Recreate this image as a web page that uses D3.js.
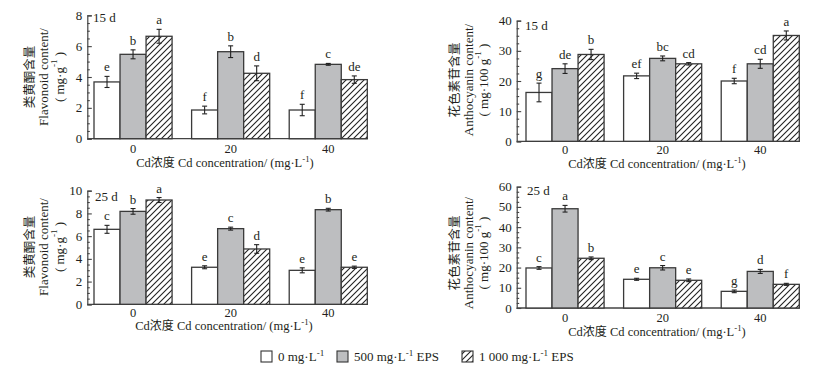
<!DOCTYPE html>
<html><head><meta charset="utf-8">
<script src="https://cdn.jsdelivr.net/npm/d3@7/dist/d3.min.js"></script>
<style>
body{margin:0;background:#fff;}
svg{display:block;}
text{font-family:"Liberation Serif","Times New Roman",serif;fill:#231f20;}
.cjk{font-family:"Noto Sans CJK SC","Noto Sans",sans-serif;}
</style></head>
<body>
<svg id="chart" width="817" height="366"></svg>
<script>
// ---------- data ----------
const categories = ["0", "20", "40"];
const seriesKeys = ["ctrl", "eps500", "eps1000"];
const seriesFills = ["#ffffff", "#bdbec0", "url(#hatch)"];

// Flavonoid 15 d (mg/g) — one array per series across Cd levels
const flav15Ctrl = [3.68, 1.86, 1.86];
const flav15Eps500 = [5.47, 5.64, 4.82];
const flav15Eps1000 = [6.64, 4.24, 3.83];
const flav15Err = [[0.36, 0.25, 0.37], [0.29, 0.38, 0.06], [0.45, 0.48, 0.24]];
const flav15Letters = [["e", "f", "f"], ["b", "b", "c"], ["a", "d", "de"]];

// Anthocyanin 15 d (mg/100 g)
const anth15Ctrl = [16.2, 21.7, 20.0];
const anth15Eps500 = [24.1, 27.5, 25.7];
const anth15Eps1000 = [28.8, 25.7, 35.1];
const anth15Err = [[3.1, 0.9, 0.9], [1.6, 0.8, 1.5], [1.7, 0.4, 1.5]];
const anth15Letters = [["g", "ef", "f"], ["de", "bc", "cd"], ["b", "cd", "a"]];

// Flavonoid 25 d
const flav25Ctrl = [6.60, 3.26, 2.99];
const flav25Eps500 = [8.18, 6.66, 8.33];
const flav25Eps1000 = [9.18, 4.87, 3.26];
const flav25Err = [[0.35, 0.13, 0.22], [0.25, 0.13, 0.12], [0.22, 0.38, 0.10]];
const flav25Letters = [["c", "e", "e"], ["b", "c", "b"], ["a", "d", "e"]];

// Anthocyanin 25 d
const anth25Ctrl = [19.8, 14.2, 8.24];
const anth25Eps500 = [49.1, 19.9, 18.1];
const anth25Eps1000 = [24.6, 13.7, 11.7];
const anth25Err = [[0.66, 0.5, 0.66], [1.65, 1.1, 1.0], [0.66, 0.66, 0.5]];
const anth25Letters = [["c", "e", "g"], ["a", "c", "d"], ["b", "e", "f"]];

const flavTicks = [0, 2, 4, 6, 8];
const flav25Ticks = [0, 2, 4, 6, 8, 10];
const anth15Ticks = [0, 10, 20, 30, 40];
const anth25Ticks = [0, 10, 20, 30, 40, 50, 60];

// ---------- drawing ----------
const svg = d3.select("#chart");
const defs = svg.append("defs");
const pat = defs.append("pattern").attr("id", "hatch")
  .attr("patternUnits", "userSpaceOnUse").attr("width", 6).attr("height", 6);
pat.append("rect").attr("width", 6).attr("height", 6).attr("fill", "#fff");
pat.append("path").attr("d", "M-1,1 l2,-2 M0,6 l6,-6 M5,7 l2,-2")
  .attr("stroke", "#222").attr("stroke-width", 1.1);

const axisCol = "#444";

function supUnit(sel, parts) {
  parts.forEach(([t, sup]) => {
    const ts = sel.append("tspan").text(t);
    if (sup) ts.attr("font-size", "0.7em").attr("baseline-shift", "super");
  });
}

function drawPanel(cfg) {
  const g = svg.append("g");
  const y = d3.scaleLinear().domain(cfg.domain).range([cfg.y0, cfg.y1]);
  const x = d3.scaleBand().domain(categories).range(cfg.barRange)
    .paddingInner(0.2).paddingOuter(0);
  const xs = d3.scaleBand().domain(seriesKeys).range([0, x.bandwidth()]);

  // axes
  const yAxis = d3.axisRight(y).tickValues(cfg.ticks).tickSize(4.5).tickFormat("");
  const minorStep = (cfg.ticks[1] - cfg.ticks[0]) / 4;
  const minor = d3.range(cfg.domain[0], cfg.domain[1] + 1e-9, minorStep)
    .filter(v => !cfg.ticks.some(t => Math.abs(t - v) < 1e-9));
  const yMinor = d3.axisRight(y).tickValues(minor).tickSize(2.5).tickFormat("");
  const ga = g.append("g").attr("transform", `translate(${cfg.axisX},0)`).call(yAxis);
  const gm = g.append("g").attr("transform", `translate(${cfg.axisX},0)`).call(yMinor);
  [ga, gm].forEach(a => {
    a.selectAll("path.domain").attr("stroke", axisCol).attr("stroke-width", 1.2);
    a.selectAll(".tick line").attr("stroke", axisCol).attr("stroke-width", 1.1);
  });
  gm.select("path.domain").remove();
  g.selectAll(null).data(cfg.ticks).join("text")
    .attr("x", cfg.axisX - 5).attr("y", d => y(d)).attr("dy", "0.35em")
    .attr("text-anchor", "end").attr("font-size", 13).text(d => d);

  // x axis baseline
  g.append("line").attr("x1", cfg.axisX).attr("x2", cfg.barRange[1] + 0.5)
    .attr("y1", y(0)).attr("y2", y(0)).attr("stroke", axisCol).attr("stroke-width", 1.3);
  g.selectAll(null).data(categories).join("text")
    .attr("x", d => x(d) + x.bandwidth() / 2).attr("y", cfg.tickLabelY)
    .attr("dy", "0.35em").attr("text-anchor", "middle").attr("font-size", 12.5).text(d => d);

  // bars
  const rows = [];
  cfg.series.forEach((vals, si) => vals.forEach((v, ci) => rows.push({
    cat: categories[ci], key: seriesKeys[si], si, v, err: cfg.err[si][ci], lab: cfg.letters[si][ci]
  })));
  g.selectAll(null).data(rows).join("rect")
    .attr("x", d => x(d.cat) + xs(d.key)).attr("width", xs.bandwidth())
    .attr("y", d => y(d.v)).attr("height", d => y(0) - y(d.v))
    .attr("fill", d => seriesFills[d.si]).attr("stroke", "#3a3a3a").attr("stroke-width", 1.3);

  // error bars
  const cx = d => x(d.cat) + xs(d.key) + xs.bandwidth() / 2;
  const eg = g.selectAll(null).data(rows).join("g").attr("stroke", "#222").attr("stroke-width", 1.1);
  eg.append("line").attr("x1", cx).attr("x2", cx)
    .attr("y1", d => y(d.v + d.err)).attr("y2", d => y(d.v - d.err));
  eg.append("line").attr("x1", d => cx(d) - 2.5).attr("x2", d => cx(d) + 2.5)
    .attr("y1", d => y(d.v + d.err)).attr("y2", d => y(d.v + d.err));
  eg.append("line").attr("x1", d => cx(d) - 2.5).attr("x2", d => cx(d) + 2.5)
    .attr("y1", d => y(d.v - d.err)).attr("y2", d => y(d.v - d.err));

  // significance letters
  g.selectAll(null).data(rows).join("text")
    .attr("x", cx).attr("y", d => y(d.v + d.err) - 5)
    .attr("text-anchor", "middle").attr("font-size", 13).text(d => d.lab);

  // day label
  g.append("text").attr("x", cfg.dayX).attr("y", cfg.dayY).attr("dy", "0.35em")
    .attr("font-size", 13).text(cfg.day);

  // y title (three rotated lines)
  const tl = (cx0, cls) => g.append("text")
    .attr("transform", `translate(${cx0},${cfg.titleCY}) rotate(-90)`)
    .attr("text-anchor", "middle").attr("dominant-baseline", "central")
    .attr("font-size", 13).attr("class", cls || null);
  tl(cfg.titleX[0], "cjk").attr("font-size", 12.5).text(cfg.titleCn);
  tl(cfg.titleX[1]).text(cfg.titleEn);
  supUnit(tl(cfg.titleX[2]), cfg.unit);

  // x title
  const xt = g.append("text").attr("x", cfg.xTitleX).attr("y", cfg.xTitleY).attr("dy", "0.35em")
    .attr("text-anchor", "middle").attr("font-size", 12.5);
  xt.append("tspan").text("Cd");
  xt.append("tspan").attr("class", "cjk").attr("font-size", 12).text("浓度");
  xt.append("tspan").text(" Cd concentration/ (mg·L");
  xt.append("tspan").attr("font-size", "0.7em").attr("baseline-shift", "super").text("-1");
  xt.append("tspan").text(")");
}

const flavUnit = [["( mg·g", false], ["-1", true], [" )", false]];
const anthUnit = [["( mg·100 g", false], ["-1", true], [" )", false]];

drawPanel({
  series: [flav15Ctrl, flav15Eps500, flav15Eps1000], err: flav15Err, letters: flav15Letters,
  domain: [0, 8], ticks: flavTicks, y0: 138.7, y1: 15.3, axisX: 87.3, barRange: [94, 367.3],
  tickLabelY: 149, day: "15 d", dayX: 93, dayY: 17,
  titleCn: "类黄酮含量", titleEn: "Flavonoid content/", unit: flavUnit,
  titleX: [28, 43, 59], titleCY: 77, xTitleX: 225, xTitleY: 162.5
});
drawPanel({
  series: [anth15Ctrl, anth15Eps500, anth15Eps1000], err: anth15Err, letters: anth15Letters,
  domain: [0, 40], ticks: anth15Ticks, y0: 141.3, y1: 20.7, axisX: 516.7, barRange: [526, 799.3],
  tickLabelY: 150, day: "15 d", dayX: 525, dayY: 25,
  titleCn: "花色素苷含量", titleEn: "Anthocyanin content/", unit: anthUnit,
  titleX: [453, 468, 483], titleCY: 80, xTitleX: 657, xTitleY: 163.5
});
drawPanel({
  series: [flav25Ctrl, flav25Eps500, flav25Eps1000], err: flav25Err, letters: flav25Letters,
  domain: [0, 10], ticks: flav25Ticks, y0: 304.3, y1: 190.7, axisX: 87.3, barRange: [94, 367.3],
  tickLabelY: 313, day: "25 d", dayX: 95, dayY: 196,
  titleCn: "类黄酮含量", titleEn: "Flavonoid content/", unit: flavUnit,
  titleX: [28, 43, 59], titleCY: 247, xTitleX: 224, xTitleY: 325.5
});
drawPanel({
  series: [anth25Ctrl, anth25Eps500, anth25Eps1000], err: anth25Err, letters: anth25Letters,
  domain: [0, 60], ticks: anth25Ticks, y0: 308, y1: 186.7, axisX: 516.7, barRange: [526, 799.3],
  tickLabelY: 318, day: "25 d", dayX: 527, dayY: 190,
  titleCn: "花色素苷含量", titleEn: "Anthocyanin content/", unit: anthUnit,
  titleX: [453, 468, 483], titleCY: 253, xTitleX: 657, xTitleY: 331.5
});

// ---------- legend ----------
const legendLabels = [
  [["0 mg·L", false], ["-1", true]],
  [["500 mg·L", false], ["-1", true], [" EPS", false]],
  [["1 000 mg·L", false], ["-1", true], [" EPS", false]]
];
const legendX = [261, 337, 462];
const lg = svg.append("g");
legendLabels.forEach((parts, i) => {
  lg.append("rect").attr("x", legendX[i]).attr("y", 351).attr("width", 11).attr("height", 11)
    .attr("fill", seriesFills[i]).attr("stroke", "#333").attr("stroke-width", 1.1);
  supUnit(lg.append("text").attr("x", legendX[i] + 17).attr("y", 356.5).attr("dy", "0.35em")
    .attr("font-size", 13), parts);
});
</script>
</body></html>
